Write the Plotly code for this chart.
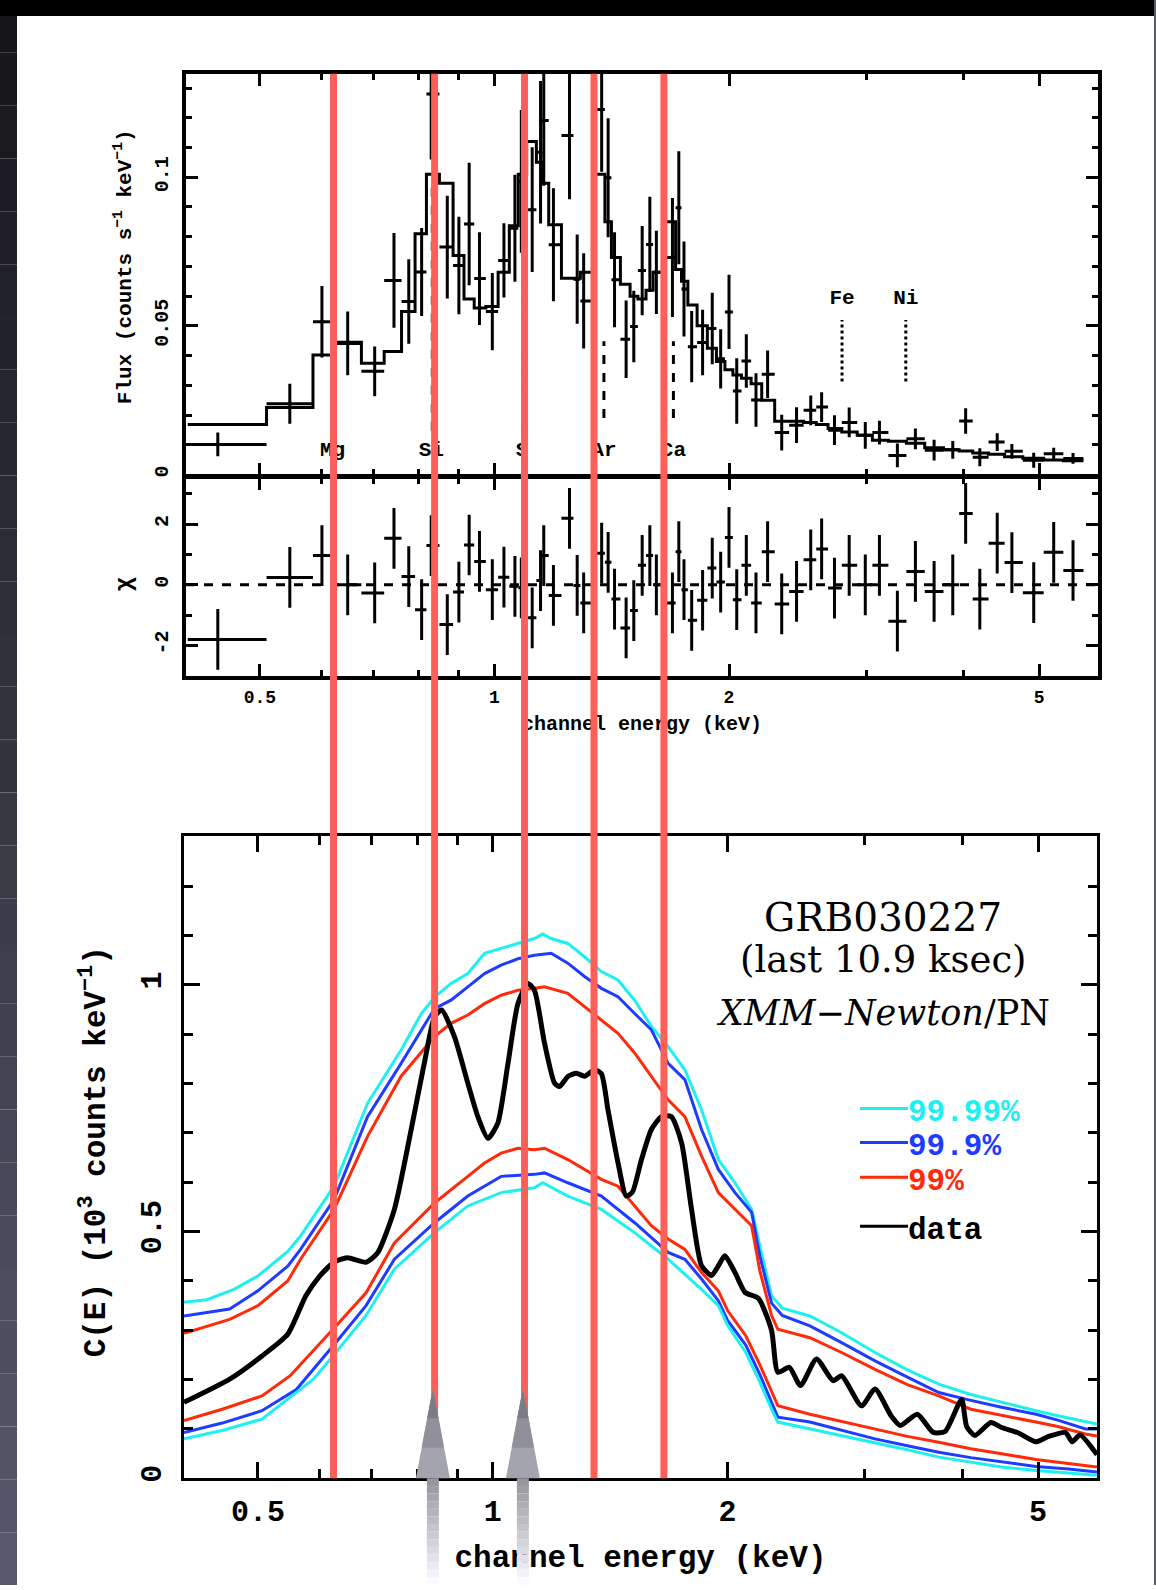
import numpy as np
import plotly.graph_objects as go

W, H = 1156, 1590

# ===================== DATA =====================
# --- top panel: binned spectrum (counts s^-1 keV^-1) ---
bin_edges = [0.404, 0.510, 0.585, 0.624, 0.675, 0.722, 0.760, 0.791, 0.818, 0.850, 0.885, 0.914, 0.942,
             0.975, 1.011, 1.045, 1.073, 1.100, 1.132, 1.151, 1.174, 1.219, 1.263, 1.289, 1.337, 1.386,
             1.413, 1.451, 1.493, 1.528, 1.565, 1.598, 1.653, 1.708, 1.738, 1.771, 1.820, 1.876, 1.927,
             1.976, 2.023, 2.075, 2.135, 2.203, 2.289, 2.389, 2.493, 2.588, 2.680, 2.791, 2.921, 3.055,
             3.203, 3.378, 3.566, 3.769, 3.948, 4.109, 4.306, 4.515, 4.765, 5.068, 5.371, 5.700]
bin_center = [0.4416, 0.5463, 0.6007, 0.6482, 0.7020, 0.7432, 0.7764, 0.8065, 0.8296, 0.8700, 0.9003,
              0.9281, 0.9568, 0.9938, 1.0285, 1.0624, 1.0827, 1.1181, 1.1460, 1.1569, 1.1905, 1.2484,
              1.2770, 1.3017, 1.3728, 1.3993, 1.4260, 1.4757, 1.5095, 1.5474, 1.5828, 1.6137, 1.6921,
              1.7243, 1.7508, 1.7911, 1.8498, 1.9034, 1.9513, 2.0000, 2.0461, 2.1049, 2.1659, 2.2415,
              2.3370, 2.4416, 2.5462, 2.6295, 2.7313, 2.8527, 2.9916, 3.1193, 3.2891, 3.4690, 3.6660,
              3.8740, 4.0241, 4.1963, 4.4176, 4.6134, 4.9208, 5.2200, 5.5266]
flux_data = [0.0101, 0.0238, 0.0514, 0.0441, 0.0347, 0.0653, 0.0582, 0.0681, 0.128, 0.0765,
             0.0703, 0.0843, 0.0659, 0.0548, 0.072, 0.0828, 0.0986, 0.0891, 0.1084, 0.1191,
             0.0773, 0.114, 0.0657, 0.0584, 0.1228, 0.0998, 0.0655, 0.0455, 0.0498, 0.0686,
             0.0774, 0.068, 0.073, 0.0897, 0.0624, 0.043, 0.0444, 0.0491, 0.0389, 0.0547,
             0.0281, 0.0382, 0.0251, 0.0337, 0.0141, 0.0166, 0.0216, 0.0227, 0.0149, 0.0175,
             0.0132, 0.0141, 0.0064, 0.012, 0.0082, 0.0083, 0.018, 0.0058, 0.0109, 0.0078,
             0.0048, 0.007, 0.0054]
flux_err = [0.0040, 0.0067, 0.0120, 0.0107, 0.0084, 0.0159, 0.0142, 0.0148, 0.0220, 0.0173,
            0.0164, 0.0206, 0.0156, 0.0130, 0.0125, 0.0180, 0.0240, 0.0210, 0.0240, 0.0220,
            0.0190, 0.0214, 0.0150, 0.0160, 0.0210, 0.0200, 0.0160, 0.0130, 0.0120, 0.0150,
            0.0160, 0.0140, 0.0200, 0.0190, 0.0160, 0.0120, 0.0110, 0.0120, 0.0100, 0.0125,
            0.0110, 0.0090, 0.0090, 0.0080, 0.0060, 0.0060, 0.0050, 0.0050, 0.0050, 0.0050,
            0.0045, 0.0040, 0.0040, 0.0035, 0.0035, 0.0030, 0.0043, 0.0030, 0.0030, 0.0025,
            0.0025, 0.0020, 0.0018]
flux_model = [0.0168, 0.0225, 0.0402, 0.0445, 0.0374, 0.0414, 0.0548, 0.0810, 0.1010, 0.0980,
              0.0737, 0.0590, 0.0560, 0.0565, 0.0680, 0.0837, 0.1010, 0.1120, 0.1050, 0.0980,
              0.0840, 0.0660, 0.0660, 0.0680, 0.1010, 0.0850, 0.0730, 0.0640, 0.0600, 0.0590,
              0.0620, 0.0680, 0.0850, 0.0690, 0.0650, 0.0570, 0.0500, 0.0425, 0.0380, 0.0352,
              0.0335, 0.0324, 0.0305, 0.0250, 0.0179, 0.0179, 0.0175, 0.0168, 0.0155, 0.0143,
              0.0132, 0.0115, 0.0112, 0.0105, 0.0090, 0.0083, 0.0079, 0.0072, 0.0068, 0.0060,
              0.0055, 0.0049, 0.0046]
chi_resid = [-1.80, 0.24, 0.96, 0.00, -0.27, 1.53, 0.27, -0.82, 1.29, -1.31,
             -0.24, 1.31, 0.77, -0.16, 0.25, -0.05, -0.10, -1.09, 0.14, 0.96,
             -0.35, 2.19, -0.02, -0.60, 1.04, 0.74, -0.47, -1.42, -0.85, 0.64,
             0.96, 0.00, -0.60, 1.09, -0.16, -1.17, -0.51, 0.55, 0.09, 1.56,
             -0.49, 0.64, -0.60, 1.09, -0.63, -0.22, 0.82, 1.18, -0.11, 0.64,
             0.00, 0.64, -1.20, 0.44, -0.22, 0.00, 2.35, -0.47, 1.37, 0.73,
             -0.26, 1.07, 0.47]

# line identifications in the top panel (observed keV)
line_names = ["Mg", "Si", "S", "Ar", "Ca"]
line_energy = [0.620, 0.830, 1.085, 1.382, 1.697]
line_lo = [0.015, 0.0147, 0.0147, 0.019, 0.019]
line_hi = [0.045, 0.097, 0.1005, 0.0448, 0.0448]
line_label_flux = 0.008
iron_names = ["Fe", "Ni"]
iron_energy = [2.793, 3.372]
iron_lo = 0.0313
iron_hi = 0.052
iron_label_flux = 0.0592

# highlighted energies (red verticals) and arrows
mark_energy = [0.6216, 0.838, 1.093, 1.342, 1.650]
arrow_energy = [0.838, 1.093]
arrow_tip = 0.182

# --- bottom panel: C(E), 10^3 counts keV^-1 ---
data_E = [0.402, 0.46, 0.506, 0.546, 0.576, 0.60, 0.626, 0.651, 0.688, 0.712, 0.748, 0.786, 0.817,
          0.842, 0.860, 0.893, 0.929, 0.957, 0.986, 1.015, 1.046, 1.077, 1.109, 1.131, 1.165, 1.200,
          1.218, 1.249, 1.280, 1.311, 1.351, 1.378, 1.405, 1.447, 1.483, 1.51, 1.551, 1.597, 1.645,
          1.694, 1.746, 1.798, 1.852, 1.907, 1.945, 1.984, 2.044, 2.105, 2.19, 2.277, 2.32, 2.40,
          2.48, 2.60, 2.73, 2.80, 2.97, 3.09, 3.24, 3.33, 3.50, 3.67, 3.80, 3.99, 4.05, 4.15, 4.35,
          4.49, 4.72, 4.97, 5.16, 5.42, 5.53, 5.66, 5.95]
data_C = [0.154, 0.201, 0.248, 0.292, 0.370, 0.41, 0.438, 0.447, 0.438, 0.457, 0.545, 0.707, 0.841,
          0.935, 0.949, 0.895, 0.801, 0.733, 0.689, 0.720, 0.841, 0.962, 1.003, 0.989, 0.882, 0.801,
          0.794, 0.815, 0.821, 0.815, 0.828, 0.82, 0.747, 0.640, 0.572, 0.58, 0.646, 0.707, 0.733,
          0.733, 0.680, 0.545, 0.431, 0.411, 0.43, 0.451, 0.417, 0.377, 0.365, 0.30, 0.215, 0.225,
          0.188, 0.242, 0.198, 0.208, 0.147, 0.181, 0.127, 0.107, 0.130, 0.093, 0.095, 0.160, 0.105,
          0.087, 0.113, 0.103, 0.092, 0.074, 0.085, 0.093, 0.074, 0.088, 0.048]

cyan_hi_E = [0.402, 0.43, 0.466, 0.50, 0.546, 0.567, 0.626, 0.691, 0.763, 0.81, 0.842, 0.884, 0.929,
             0.976, 1.025, 1.077, 1.131, 1.159, 1.188, 1.248, 1.311, 1.378, 1.447, 1.520, 1.597,
             1.678, 1.763, 1.852, 1.946, 2.044, 2.147, 2.20, 2.277, 2.35, 2.55, 2.8, 3.09, 3.4,
             3.73, 4.1, 4.49, 4.97, 5.3, 5.75, 5.95]
cyan_hi_C = [0.357, 0.362, 0.383, 0.41, 0.46, 0.491, 0.592, 0.760, 0.868, 0.942, 0.975, 1.003, 1.023,
             1.064, 1.074, 1.084, 1.094, 1.103, 1.094, 1.084, 1.057, 1.027, 1.010, 0.969, 0.916,
             0.875, 0.828, 0.747, 0.646, 0.599, 0.545, 0.47, 0.37, 0.345, 0.329, 0.295, 0.255, 0.22,
             0.191, 0.17, 0.154, 0.137, 0.127, 0.114, 0.110]
blue_hi_E = [0.402, 0.46, 0.50, 0.546, 0.567, 0.626, 0.691, 0.763, 0.842, 0.884, 0.929, 0.976, 1.025,
             1.077, 1.131, 1.188, 1.248, 1.311, 1.378, 1.447, 1.520, 1.597, 1.678, 1.763, 1.852,
             1.946, 2.044, 2.147, 2.20, 2.277, 2.35, 2.55, 2.8, 3.09, 3.4, 3.73, 4.1, 4.49, 4.97,
             5.3, 5.75, 5.95]
blue_hi_C = [0.329, 0.343, 0.38, 0.43, 0.464, 0.565, 0.733, 0.841, 0.952, 0.969, 0.996, 1.023, 1.040,
             1.053, 1.060, 1.064, 1.044, 1.017, 0.993, 0.976, 0.942, 0.909, 0.841, 0.808, 0.707,
             0.626, 0.579, 0.539, 0.45, 0.355, 0.33, 0.309, 0.275, 0.238, 0.205, 0.174, 0.158, 0.144,
             0.130, 0.118, 0.100, 0.100]
red_hi_E = [0.402, 0.46, 0.50, 0.546, 0.567, 0.626, 0.691, 0.763, 0.842, 0.884, 0.929, 0.976, 1.025,
            1.077, 1.131, 1.165, 1.248, 1.311, 1.378, 1.447, 1.520, 1.597, 1.678, 1.763, 1.852,
            1.946, 2.044, 2.147, 2.20, 2.277, 2.32, 2.55, 2.8, 3.09, 3.4, 3.73, 4.1, 4.49, 4.97,
            5.3, 5.75, 5.95]
red_hi_C = [0.294, 0.322, 0.35, 0.40, 0.444, 0.545, 0.693, 0.815, 0.895, 0.922, 0.939, 0.962, 0.979,
            0.989, 0.993, 0.996, 0.983, 0.956, 0.929, 0.902, 0.862, 0.815, 0.767, 0.733, 0.653,
            0.579, 0.545, 0.512, 0.42, 0.33, 0.302, 0.285, 0.255, 0.221, 0.19, 0.167, 0.14, 0.127,
            0.114, 0.105, 0.090, 0.086]
red_lo_E = [0.402, 0.45, 0.506, 0.55, 0.624, 0.688, 0.748, 0.842, 0.929, 0.976, 1.025, 1.077, 1.131,
            1.165, 1.248, 1.311, 1.378, 1.447, 1.520, 1.597, 1.678, 1.763, 1.852, 1.946, 2.0, 2.11,
            2.2, 2.277, 2.32, 2.55, 2.8, 3.09, 3.4, 3.73, 4.1, 4.49, 4.97, 5.47, 5.95]
red_lo_C = [0.117, 0.14, 0.167, 0.208, 0.302, 0.376, 0.477, 0.558, 0.612, 0.639, 0.659, 0.669, 0.666,
            0.669, 0.646, 0.626, 0.606, 0.592, 0.552, 0.512, 0.485, 0.464, 0.417, 0.38, 0.34, 0.289,
            0.23, 0.174, 0.147, 0.130, 0.115, 0.100, 0.085, 0.073, 0.06, 0.050, 0.038, 0.030, 0.023]
blue_lo_E = [0.402, 0.45, 0.506, 0.56, 0.624, 0.688, 0.748, 0.842, 0.929, 1.025, 1.131, 1.165, 1.248,
             1.378, 1.520, 1.678, 1.763, 1.852, 1.946, 2.0, 2.11, 2.2, 2.277, 2.32, 2.55, 2.8, 3.09,
             3.4, 3.73, 4.1, 4.49, 4.97, 5.47, 5.95]
blue_lo_C = [0.093, 0.112, 0.137, 0.18, 0.268, 0.35, 0.444, 0.518, 0.572, 0.612, 0.616, 0.619, 0.599,
             0.572, 0.518, 0.458, 0.444, 0.404, 0.36, 0.32, 0.27, 0.21, 0.154, 0.124, 0.114, 0.097,
             0.080, 0.066, 0.053, 0.042, 0.033, 0.024, 0.019, 0.013]
cyan_lo_E = [0.402, 0.45, 0.506, 0.589, 0.624, 0.688, 0.748, 0.842, 0.929, 1.025, 1.131, 1.159, 1.248,
             1.378, 1.520, 1.678, 1.852, 1.946, 2.0, 2.11, 2.2, 2.277, 2.32, 2.55, 2.8, 3.09, 3.4,
             3.73, 4.1, 4.49, 4.97, 5.47, 5.95]
cyan_lo_C = [0.080, 0.097, 0.120, 0.201, 0.248, 0.33, 0.424, 0.498, 0.552, 0.579, 0.589, 0.599, 0.572,
             0.545, 0.498, 0.444, 0.383, 0.35, 0.31, 0.255, 0.195, 0.140, 0.114, 0.100, 0.087, 0.073,
             0.058, 0.043, 0.033, 0.023, 0.016, 0.011, 0.006]

legend_labels = ["99.99%", "99.9%", "99%", "data"]
title_lines = ["GRB030227", "(last 10.9 ksec)", "<i>XMM−Newton</i>/PN"]
x_title = "channel energy (keV)"

# tick definitions
x_major = [0.5, 1, 2, 5]
x_major_text = ["0.5", "1", "2", "5"]
x_minor = [0.6, 0.7, 0.8, 0.9, 3, 4]
flux_major = [0, 0.05, 0.1]
flux_major_text = ["0", "0.05", "0.1"]
flux_minor = [0.01, 0.02, 0.03, 0.04, 0.06, 0.07, 0.08, 0.09, 0.11, 0.12, 0.13]
chi_major = [-2, 0, 2]
chi_major_text = ["-2", "0", "2"]
chi_minor = [-3, -1, 1, 3]
c_major = [0, 0.5, 1]
c_major_text = ["0", "0.5", "1"]
c_minor = [0.1, 0.2, 0.3, 0.4, 0.6, 0.7, 0.8, 0.9, 1.1, 1.2, 1.3]

# ===================== STYLE / GEOMETRY =====================
MONO = "Liberation Mono"
SERIF = "DejaVu Serif"
CYAN, BLUE, RED, BLACK = "#1ef0f0", "#1e3cff", "#ff2a0a", "black"
MARK = "#fe5f58"

xr = [np.log10(0.402), np.log10(5.95)]
top_px = (186, 1098)
bot_px = (184, 1097)
top_y_px = (74, 476)
res_y_px = (480, 678)
bot_y_px = (839, 1483)
flux_range = [0, 0.1348]
chi_range = [-3.0, 3.5]
c_range = [0, 1.301]


def fx(E, px):
    return (px[0] + (np.log10(E) - xr[0]) / (xr[1] - xr[0]) * (px[1] - px[0])) / W


def fy_bot(C):
    return 1 - (bot_y_px[1] - (C - c_range[0]) / (c_range[1] - c_range[0]) * (bot_y_px[1] - bot_y_px[0])) / H


def py(p):
    return 1 - p / H


fig = go.Figure()

# ---------- top panel ----------
model_x = bin_edges
model_y = flux_model + [flux_model[-1]]
fig.add_trace(go.Scatter(x=model_x, y=model_y, mode="lines", line=dict(color=BLACK, width=3, shape="hv"),
                         xaxis="x", yaxis="y", hoverinfo="skip"))
ex_plus = [bin_edges[i + 1] - bin_center[i] for i in range(len(bin_center))]
ex_minus = [bin_center[i] - bin_edges[i] for i in range(len(bin_center))]
fig.add_trace(go.Scatter(
    x=bin_center, y=flux_data, mode="markers", marker=dict(size=4, color=BLACK),
    error_x=dict(type="data", symmetric=False, array=ex_plus, arrayminus=ex_minus,
                 color=BLACK, thickness=3, width=0),
    error_y=dict(type="data", array=flux_err, color=BLACK, thickness=3, width=0),
    xaxis="x", yaxis="y", hoverinfo="skip"))

for i, name in enumerate(line_names):
    thick = name in ("Ar", "Ca")
    fig.add_trace(go.Scatter(x=[line_energy[i], line_energy[i]], y=[line_lo[i], line_hi[i]], mode="lines",
                             line=dict(color=BLACK if thick else "#444444", width=3 if thick else 1.3,
                                       dash="dash"),
                             xaxis="x", yaxis="y", hoverinfo="skip"))
for i, name in enumerate(iron_names):
    fig.add_trace(go.Scatter(x=[iron_energy[i], iron_energy[i]], y=[iron_lo, iron_hi], mode="lines",
                             line=dict(color=BLACK, width=3, dash="dot"),
                             xaxis="x", yaxis="y", hoverinfo="skip"))
fig.add_trace(go.Scatter(x=line_energy, y=[line_label_flux] * len(line_energy), mode="text", text=line_names,
                         textfont=dict(family=MONO, size=21, color=BLACK, weight="bold"),
                         xaxis="x", yaxis="y", cliponaxis=False, hoverinfo="skip"))
fig.add_trace(go.Scatter(x=iron_energy, y=[iron_label_flux] * len(iron_energy), mode="text", text=iron_names,
                         textfont=dict(family=MONO, size=21, color=BLACK, weight="bold"),
                         xaxis="x", yaxis="y", cliponaxis=False, hoverinfo="skip"))

# ---------- residual panel ----------
fig.add_trace(go.Scatter(x=[10 ** xr[0], 10 ** xr[1]], y=[0, 0], mode="lines",
                         line=dict(color=BLACK, width=3, dash="dash"), xaxis="x2", yaxis="y2", hoverinfo="skip"))
fig.add_trace(go.Scatter(
    x=bin_center, y=chi_resid, mode="markers", marker=dict(size=4, color=BLACK),
    error_x=dict(type="data", symmetric=False, array=ex_plus, arrayminus=ex_minus,
                 color=BLACK, thickness=3, width=0),
    error_y=dict(type="constant", value=1, color=BLACK, thickness=3, width=0),
    xaxis="x2", yaxis="y2", hoverinfo="skip"))

# ---------- bottom panel ----------
for E, C, col, wd in [(cyan_hi_E, cyan_hi_C, CYAN, 3), (blue_hi_E, blue_hi_C, BLUE, 3),
                      (red_hi_E, red_hi_C, RED, 3), (red_lo_E, red_lo_C, RED, 3),
                      (blue_lo_E, blue_lo_C, BLUE, 3), (cyan_lo_E, cyan_lo_C, CYAN, 3)]:
    fig.add_trace(go.Scatter(x=E, y=C, mode="lines", line=dict(color=col, width=wd),
                             xaxis="x3", yaxis="y3", hoverinfo="skip"))
fig.add_trace(go.Scatter(x=data_E, y=data_C, mode="lines",
                         line=dict(color=BLACK, width=5, shape="spline", smoothing=0.6),
                         xaxis="x3", yaxis="y3", hoverinfo="skip"))

# ---------- x-axis titles on a transparent full-page overlay subplot (shapes pass over them) ----------
fig.add_trace(go.Scatter(x=[(top_px[0] + top_px[1]) / 2 / W], y=[py(727)], mode="text", text=[x_title],
                         textfont=dict(family=MONO, size=20, color=BLACK, weight="bold"),
                         xaxis="x4", yaxis="y4", cliponaxis=False, hoverinfo="skip"))
fig.add_trace(go.Scatter(x=[(bot_px[0] + bot_px[1]) / 2 / W], y=[py(1564)], mode="text", text=[x_title],
                         textfont=dict(family=MONO, size=31, color=BLACK, weight="bold"),
                         xaxis="x4", yaxis="y4", cliponaxis=False, hoverinfo="skip"))


# ---------- axes ----------
def xaxis(domain_px, anchor, labels, fsize, tlen, mlen, lw, standoff):
    return dict(type="log", range=xr, domain=[domain_px[0] / W, domain_px[1] / W], anchor=anchor,
                showline=True, linecolor=BLACK, linewidth=lw, mirror="allticks",
                ticks="inside", ticklen=tlen, tickwidth=3, tickcolor=BLACK,
                tickmode="array", tickvals=x_major, ticktext=x_major_text, showticklabels=labels,
                tickfont=dict(family=MONO, size=fsize, color=BLACK, weight="bold"),
                ticklabelstandoff=standoff,
                minor=dict(tickmode="array", tickvals=x_minor, ticks="inside", ticklen=mlen, tickwidth=3,
                           tickcolor=BLACK, showgrid=False),
                showgrid=False, zeroline=False)


def yaxis(domain_px, anchor, rng, vals, text, minor_vals, fsize, tlen, mlen, lw, standoff):
    return dict(range=rng, domain=[py(domain_px[1]), py(domain_px[0])], anchor=anchor,
                showline=True, linecolor=BLACK, linewidth=lw, mirror="allticks",
                ticks="inside", ticklen=tlen, tickwidth=3, tickcolor=BLACK,
                tickmode="array", tickvals=vals, ticktext=text, tickangle=-90,
                tickfont=dict(family=MONO, size=fsize, color=BLACK, weight="bold"),
                ticklabelstandoff=standoff,
                minor=dict(tickmode="array", tickvals=minor_vals, ticks="inside", ticklen=mlen, tickwidth=3,
                           tickcolor=BLACK, showgrid=False),
                showgrid=False, zeroline=False)


shapes = []
# page background bands
n_slices = 30
for k in range(n_slices):
    t = k / (n_slices - 1)
    r = int(22 + t * 66)
    g = int(22 + t * 66)
    b = int(26 + t * 82)
    shapes.append(dict(type="rect", xref="paper", yref="paper", x0=0, x1=17 / W,
                       y0=1 - (k + 1) / n_slices, y1=1 - k / n_slices, line=dict(width=0),
                       fillcolor=f"rgb({r},{g},{b})", layer="below"))
shapes.append(dict(type="rect", xref="paper", yref="paper", x0=0, x1=1, y0=py(16), y1=1,
                   line=dict(width=0), fillcolor="black", layer="below"))
shapes.append(dict(type="rect", xref="paper", yref="paper", x0=1154 / W, x1=1, y0=0, y1=1,
                   line=dict(width=0), fillcolor="#5b5b68", layer="below"))

# red highlight lines spanning all panels
for E in mark_energy:
    xf = fx(E, top_px)
    shapes.append(dict(type="line", xref="paper", yref="paper", x0=xf, x1=xf, y0=py(bot_y_px[1]),
                       y1=py(top_y_px[0]), line=dict(color=MARK, width=7), layer="above"))

# grey arrows
for E in arrow_energy:
    xc = fx(E, bot_px)
    tip = fy_bot(arrow_tip)
    base = fy_bot(0)
    n_st = 14
    for k in range(n_st):
        t = k / (n_st - 1)
        cval = int(150 + t * 100)
        y_top = bot_y_px[1] + k * (H - bot_y_px[1]) / n_st
        y_bot = bot_y_px[1] + (k + 1) * (H - bot_y_px[1]) / n_st
        shapes.append(dict(type="rect", xref="paper", yref="paper", x0=xc - 6 / W, x1=xc + 6 / W,
                           y0=py(y_bot), y1=py(y_top), line=dict(width=0),
                           fillcolor=f"rgb({cval},{cval},{min(255, cval + 8)})", layer="above"))
    for frac, col in [(1.0, "#a4a4ae"), (0.66, "#90909b"), (0.33, "#7c7c88")]:
        yb = tip - frac * (tip - base)
        hw = frac * 17 / W
        path = f"M {xc - hw},{yb} L {xc},{tip} L {xc + hw},{yb} Z"
        shapes.append(dict(type="path", xref="paper", yref="paper", path=path,
                           fillcolor=col, line=dict(width=0), layer="above"))

# legend lines
legend_colors = [CYAN, BLUE, RED, BLACK]
legend_y_px = [1112, 1146, 1181, 1230]
for col, yp in zip(legend_colors, legend_y_px):
    shapes.append(dict(type="line", xref="paper", yref="paper", x0=860 / W, x1=908 / W, y0=py(yp), y1=py(yp),
                       line=dict(color=col, width=3)))

annotations = []
annotations.append(dict(text="Flux (counts s<sup>−1</sup> keV<sup>−1</sup>)", x=123 / W, y=py(268),
                        xref="paper", yref="paper", textangle=-90, showarrow=False,
                        xanchor="center", yanchor="middle",
                        font=dict(family=MONO, size=21, color=BLACK, weight="bold")))
annotations.append(dict(text="χ", x=124 / W, y=py(586), xref="paper", yref="paper", textangle=-90,
                        showarrow=False, xanchor="center", yanchor="middle",
                        font=dict(family=MONO, size=24, color=BLACK, weight="bold")))
annotations.append(dict(text="C(E) (10<sup>3</sup> counts keV<sup>−1</sup>)", x=94 / W, y=py(1156),
                        xref="paper", yref="paper", textangle=-90, showarrow=False,
                        xanchor="center", yanchor="middle",
                        font=dict(family=MONO, size=31, color=BLACK, weight="bold")))
for txt, yp, fs in zip(title_lines, [920, 963, 1016], [39, 37, 35]):
    annotations.append(dict(text=txt, x=883 / W, y=py(yp), xref="paper", yref="paper", showarrow=False,
                            xanchor="center", yanchor="middle", font=dict(family=SERIF, size=fs, color=BLACK)))
for lab, col, yp in zip(legend_labels, legend_colors, legend_y_px):
    annotations.append(dict(text=lab, x=906 / W, y=py(yp + 4), xref="paper", yref="paper", showarrow=False,
                            xanchor="left", yanchor="middle",
                            font=dict(family=MONO, size=31, color=col, weight="bold")))

fig.update_layout(
    width=W, height=H, margin=dict(l=0, r=0, t=0, b=0),
    paper_bgcolor="white", plot_bgcolor="rgba(0,0,0,0)", showlegend=False,
    xaxis=xaxis(top_px, "y", False, 18, 12, 6, 4, 2),
    xaxis2=xaxis(top_px, "y2", True, 18, 12, 6, 4, 2),
    xaxis3=xaxis(bot_px, "y3", True, 30, 16, 9, 3, 4),
    yaxis=yaxis(top_y_px, "x", flux_range, flux_major, flux_major_text, flux_minor, 20, 12, 6, 4, 6),
    yaxis2=yaxis(res_y_px, "x2", chi_range, chi_major, chi_major_text, chi_minor, 20, 12, 6, 4, 6),
    yaxis3=yaxis(bot_y_px, "x3", c_range, c_major, c_major_text, c_minor, 30, 16, 9, 3, 8),
    xaxis4=dict(domain=[0, 1], range=[0, 1], anchor="y4", visible=False, fixedrange=True),
    yaxis4=dict(domain=[0, 1], range=[0, 1], anchor="x4", visible=False, fixedrange=True),
    shapes=shapes, annotations=annotations,
)

fig.write_html("out.html", config={"displayModeBar": False},
               post_script="document.body.style.margin='0px';document.body.style.overflow='hidden';")
